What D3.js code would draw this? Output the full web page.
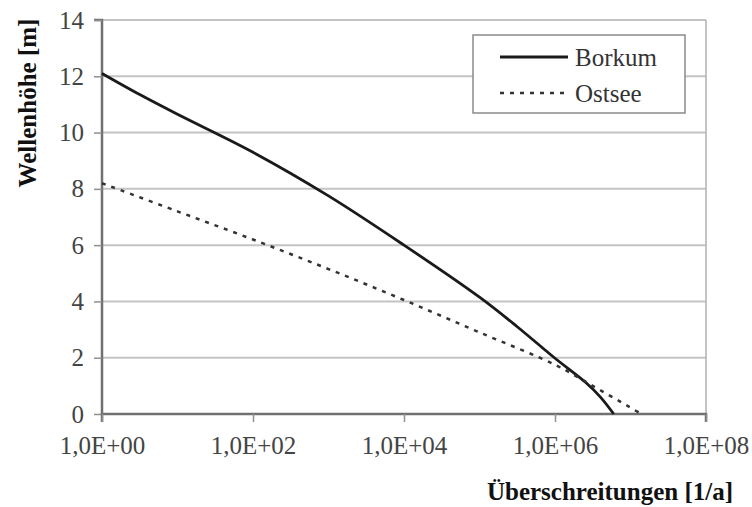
<!DOCTYPE html>
<meta charset="utf-8">
<script src="https://cdn.jsdelivr.net/npm/d3@7"></script>
<style>
    body { margin: 0; background: #fff; }
    text { font-family: "Liberation Serif", "Times New Roman", "DejaVu Serif", serif; }
</style>
<div id="chart"></div>
<script>
    // exceedances per year (x) and wave heights (y)
    const borkumN = [1, 3.16e0, 1e1, 1e2, 1e3, 1e4, 1e5, 3.16e5, 1e6, 2.6e6, 4e6, 6e6];
    const borkumH = [12.1, 11.35, 10.65, 9.3, 7.75, 6.0, 4.15, 3.1, 1.98, 1.1, 0.6, 0];
    const ostseeN = [1, 1e1, 1e2, 1e3, 1e4, 1e5, 1e6, 3.16e6, 1.4e7];
    const ostseeH = [8.2, 7.2, 6.2, 5.15, 4.05, 2.9, 1.75, 1.0, 0];
    const xTicks = [1e0, 1e2, 1e4, 1e6, 1e8];
    const xTickLabels = ["1,0E+00", "1,0E+02", "1,0E+04", "1,0E+06", "1,0E+08"];
    const yTicks = [0, 2, 4, 6, 8, 10, 12, 14];

    const W = 752, H = 507;
    const margin = {top: 20, right: 46, bottom: 93, left: 102};
    const width = W - margin.left - margin.right,
        height = H - margin.top - margin.bottom;

    const svg = d3.select("#chart").append("svg")
        .attr("width", W)
        .attr("height", H);

    const g = svg.append("g")
        .attr("transform", `translate(${margin.left},${margin.top})`);

    const x = d3.scaleLog().domain([1, 1e8]).range([0, width]);
    const y = d3.scaleLinear().domain([0, 14]).range([height, 0]);

    // gridlines
    g.selectAll(".grid")
        .data(yTicks.filter(d => d > 0))
        .enter().append("line")
        .attr("x1", 0).attr("x2", width)
        .attr("y1", d => y(d)).attr("y2", d => y(d))
        .attr("stroke", "#c4c4c4")
        .attr("stroke-width", 2);

    // right frame
    g.append("line")
        .attr("x1", width).attr("x2", width)
        .attr("y1", 0).attr("y2", height)
        .attr("stroke", "#b0b0b0").attr("stroke-width", 1.5);

    const yAxis = d3.axisLeft(y).tickValues(yTicks).tickSize(8).tickPadding(10);
    const xAxis = d3.axisBottom(x).tickValues(xTicks).tickSize(8).tickPadding(14)
        .tickFormat((d, i) => xTickLabels[i]);

    const ya = g.append("g").call(yAxis);
    const xa = g.append("g").attr("transform", `translate(0,${height})`).call(xAxis);

    [ya, xa].forEach(a => {
        a.attr("font-family", null);
        a.select(".domain").attr("stroke", "#707070").attr("stroke-width", 2.5);
        a.selectAll(".tick line").attr("stroke", "#909090").attr("stroke-width", 1.5);
        a.selectAll(".tick text")
            .attr("fill", "#444")
            .style("font-size", "25px");
    });
    ya.select(".domain").attr("d", `M-8,0H0V${height}`);
    xa.select(".domain").attr("d", `M0,8V0H${width}V8`);

    const line = d3.line()
        .x(d => x(d[0]))
        .y(d => y(d[1]))
        .curve(d3.curveCatmullRom.alpha(0.5));

    g.append("path")
        .datum(d3.zip(borkumN, borkumH))
        .attr("d", line)
        .attr("fill", "none")
        .attr("stroke", "#1a1a1a")
        .attr("stroke-width", 2.8);

    g.append("path")
        .datum(d3.zip(ostseeN, ostseeH))
        .attr("d", line)
        .attr("fill", "none")
        .attr("stroke", "#333")
        .attr("stroke-width", 2.5)
        .attr("stroke-dasharray", "4,6");

    // legend
    const lg = svg.append("g").attr("transform", "translate(473,35)");
    lg.append("rect")
        .attr("width", 212).attr("height", 78)
        .attr("fill", "#fff")
        .attr("stroke", "#8a8a8a").attr("stroke-width", 1.5);
    lg.append("line")
        .attr("x1", 27).attr("x2", 95).attr("y1", 22).attr("y2", 22)
        .attr("stroke", "#1a1a1a").attr("stroke-width", 2.8);
    lg.append("line")
        .attr("x1", 27).attr("x2", 95).attr("y1", 58).attr("y2", 58)
        .attr("stroke", "#333").attr("stroke-width", 2.5)
        .attr("stroke-dasharray", "4,6");
    lg.append("text").attr("x", 102).attr("y", 31)
        .attr("fill", "#333").style("font-size", "25px").text("Borkum");
    lg.append("text").attr("x", 102).attr("y", 67)
        .attr("fill", "#333").style("font-size", "25px").text("Ostsee");

    // axis titles
    svg.append("text")
        .attr("transform", "translate(36,103) rotate(-90)")
        .attr("text-anchor", "middle")
        .attr("fill", "#111")
        .style("font-weight", "bold")
        .style("font-size", "25px")
        .text("Wellenhöhe [m]");

    svg.append("text")
        .attr("x", 733).attr("y", 500)
        .attr("text-anchor", "end")
        .attr("fill", "#111")
        .style("font-weight", "bold")
        .style("font-size", "25px")
        .text("Überschreitungen [1/a]");
</script>
